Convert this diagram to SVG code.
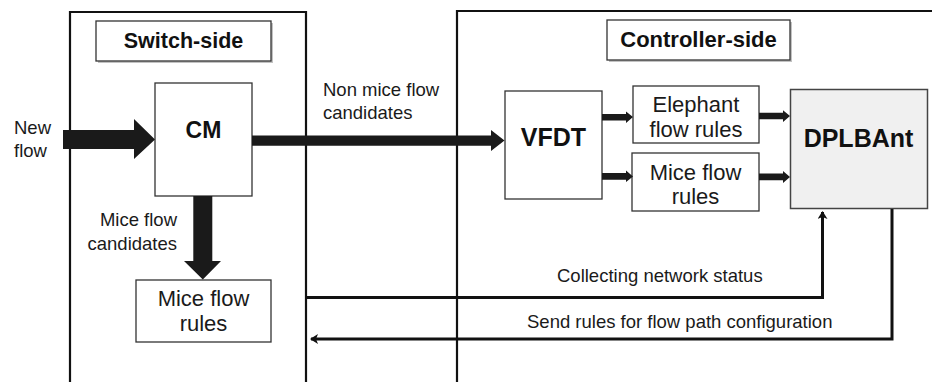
<svg xmlns="http://www.w3.org/2000/svg" width="932" height="382" viewBox="0 0 932 382">
<style>
  .frame{fill:none;stroke:#111;stroke-width:2.2}
  .box{fill:#fff;stroke:#333;stroke-width:1.3}
  .lbl{fill:#fff;stroke:#333;stroke-width:1.3}
  .shadow{fill:#999;opacity:0.6}
  .t{font-family:"Liberation Sans",Arial,sans-serif;font-size:18.5px;fill:#1a1a1a}
  .tb{font-family:"Liberation Sans",Arial,sans-serif;font-weight:bold;fill:#111;text-anchor:middle}
  .tn{font-family:"Liberation Sans",Arial,sans-serif;font-size:22px;fill:#1a1a1a;text-anchor:middle}
  .fat{fill:#1a1a1a}
  .wire{fill:none;stroke:#111;stroke-width:3}
</style>
<defs>
  <marker id="ah" markerWidth="10" markerHeight="10" refX="7" refY="5" orient="auto" markerUnits="userSpaceOnUse">
    <path d="M0,0 L8,5 L0,10 L2,5 Z" fill="#111"/>
  </marker>
</defs>
<rect width="932" height="382" fill="#fff"/>

<g id="switch-side-frame">
  <path class="frame" d="M70,382 V12 H306 V382"/>
</g>
<g id="controller-side-frame">
  <path class="frame" d="M457,382 V11 H932"/>
</g>

<g id="switch-side-label">
  <rect class="shadow" x="98" y="23" width="175" height="40"/>
  <rect class="lbl" x="96" y="21" width="175" height="40"/>
  <text class="tb" x="183.5" y="48" font-size="21.5">Switch-side</text>
</g>
<g id="controller-side-label">
  <rect class="shadow" x="609" y="22" width="183" height="40"/>
  <rect class="lbl" x="607" y="20" width="183" height="40"/>
  <text class="tb" x="698.5" y="47" font-size="22">Controller-side</text>
</g>

<g id="cm">
  <rect class="box" x="155" y="83" width="97" height="113"/>
  <text class="tb" x="203.5" y="138" font-size="23">CM</text>
</g>
<g id="switch-mice-rules">
  <rect class="box" x="136" y="280" width="135" height="62"/>
  <text class="tn" x="203.5" y="306">Mice flow</text>
  <text class="tn" x="203.5" y="331">rules</text>
</g>
<g id="vfdt">
  <rect class="box" x="505" y="91" width="97" height="108"/>
  <text class="tb" x="553.5" y="146" font-size="25">VFDT</text>
</g>
<g id="elephant-rules">
  <rect class="box" x="633" y="86" width="126" height="57"/>
  <text class="tn" x="696" y="112">Elephant</text>
  <text class="tn" x="696" y="137">flow rules</text>
</g>
<g id="controller-mice-rules">
  <rect class="box" x="632" y="153" width="127" height="58"/>
  <text class="tn" x="695.5" y="180">Mice flow</text>
  <text class="tn" x="695.5" y="204">rules</text>
</g>
<g id="dplbant">
  <rect x="790.5" y="89.5" width="137" height="119" fill="#f0f0f0" stroke="#444" stroke-width="1.5"/>
  <text class="tb" x="858.5" y="147" font-size="25">DPLBAnt</text>
</g>

<g id="connectors">
  <polygon class="fat" points="63,130 134,130 134,119 155,139.5 134,159 134,149 63,149"/>
  <polygon class="fat" points="252,135.5 491,135.5 491,130 504.5,140.5 491,151 491,145.8 252,145.8"/>
  <polygon class="fat" points="193.3,196 212.3,196 212.3,261 221,261 202.8,279.5 184,261 193.3,261"/>
  <polygon class="fat" points="602,114 626,114 626,111.5 633,117 626,123 626,120.5 602,120.5"/>
  <polygon class="fat" points="602,173 626,173 626,170.5 633,176.5 626,182 626,179.8 602,179.8"/>
  <polygon class="fat" points="759,112.7 783,112.7 783,110.2 790,116 783,122 783,119.3 759,119.3"/>
  <polygon class="fat" points="759,173.5 783,173.5 783,171 790,177 783,183 783,180.3 759,180.3"/>
  <path class="wire" d="M306,297.5 H822.5 V212" marker-end="url(#ah)"/>
  <path class="wire" d="M892,209 V339 H311" marker-end="url(#ah)"/>
</g>

<g id="labels">
  <text class="t" x="14" y="134">New</text>
  <text class="t" x="14" y="157">flow</text>
  <text class="t" x="323" y="96">Non mice flow</text>
  <text class="t" x="323" y="119">candidates</text>
  <text class="t" x="177" y="226" text-anchor="end">Mice flow</text>
  <text class="t" x="177" y="250" text-anchor="end">candidates</text>
  <text class="t" x="557" y="282">Collecting network status</text>
  <text class="t" x="527" y="328">Send rules for flow path configuration</text>
</g>
</svg>
